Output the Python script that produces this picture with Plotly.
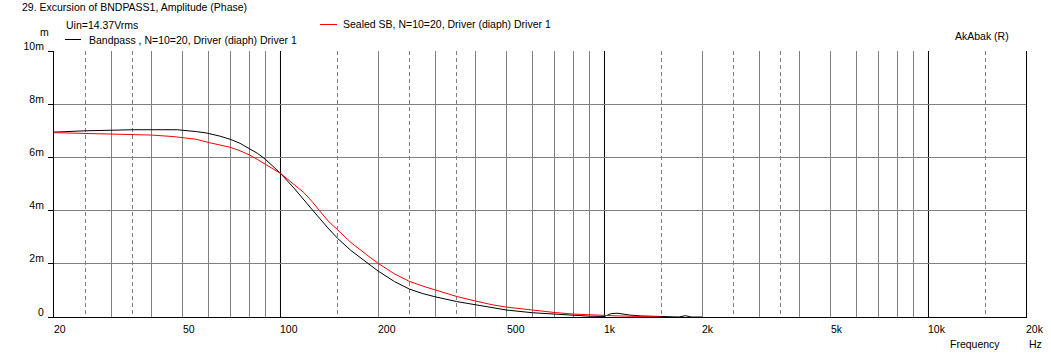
import math
import plotly.graph_objects as go

# ---------------- data (excursion in mm) ----------------
freq_bp = [20, 24, 25, 35, 40, 48, 55, 59, 65, 70, 75, 80, 85, 90, 95, 100,
           110, 117, 125, 140, 150, 165, 185, 200, 225, 250, 275, 300, 350,
           400, 450, 500, 600, 700, 800, 900, 1000, 1050, 1100, 1200, 1300,
           1500, 1700, 1780, 1850, 2000]
exc_bp = [6.95, 6.97, 7.0, 7.04, 7.05, 7.04, 6.97, 6.92, 6.80, 6.68, 6.53,
          6.35, 6.15, 5.92, 5.67, 5.40, 4.85, 4.48, 4.05, 3.35, 2.96, 2.50,
          2.03, 1.73, 1.33, 1.05, 0.88, 0.76, 0.58, 0.45, 0.34, 0.26, 0.16,
          0.10, 0.06, 0.03, 0.02, 0.13, 0.14, 0.07, 0.04, 0.01, 0.0, 0.05,
          0.0, 0.0]

freq_sb = [20, 23.5, 30, 35, 40, 47, 55, 60, 65, 70, 75, 80, 85, 90, 95, 100,
           110, 118, 125, 140, 150, 165, 185, 200, 225, 250, 275, 300, 350,
           400, 450, 500, 600, 700, 800, 900, 1000, 1100, 1300, 1500]
exc_sb = [6.93, 6.91, 6.89, 6.88, 6.84, 6.78, 6.68, 6.56, 6.48, 6.38, 6.25,
          6.10, 5.92, 5.72, 5.56, 5.40, 4.98, 4.68, 4.35, 3.62, 3.28, 2.80,
          2.33, 2.02, 1.62, 1.34, 1.16, 1.02, 0.77, 0.60, 0.46, 0.37, 0.25,
          0.17, 0.11, 0.08, 0.06, 0.04, 0.02, 0.0]

x_tick_vals = [20, 50, 100, 200, 500, 1000, 2000, 5000, 10000, 20000]
x_tick_text = ["20", "50", "100", "200", "500", "1k", "2k", "5k", "10k", "20k"]
y_tick_vals = [0, 2, 4, 6, 8, 10]
y_tick_text = ["0", "2m", "4m", "6m", "8m", "10m"]

grid_solid = [30, 40, 50, 60, 70, 80, 90, 200, 300, 400, 500, 600, 700, 800,
              900, 2000, 3000, 4000, 5000, 6000, 7000, 8000, 9000]
grid_dash = [25, 35, 150, 250, 350, 1500, 2500, 3500, 15000]
grid_decade = [100, 1000, 10000]

title_text = "29. Excursion of BNDPASS1, Amplitude (Phase)"
sub_text = "Uin=14.37Vrms"
name_bp = "Bandpass , N=10=20, Driver (diaph) Driver 1"
name_sb = "Sealed SB, N=10=20, Driver (diaph) Driver 1"

FONT = "Liberation Sans, Arial, sans-serif"
FS = 10.5
GRAY = "#808080"

fig = go.Figure()
fig.add_trace(go.Scatter(x=freq_bp, y=exc_bp, mode="lines", name=name_bp,
                         line=dict(color="#000000", width=1), showlegend=False))
fig.add_trace(go.Scatter(x=freq_sb, y=exc_sb, mode="lines", name=name_sb,
                         line=dict(color="#ff0000", width=1), showlegend=False))

# decade lines (black)
for f in grid_decade:
    fig.add_shape(type="line", xref="x", yref="paper", x0=f, x1=f, y0=0, y1=1,
                  line=dict(color="#000000", width=1), layer="below")

fig.update_xaxes(
    type="log", range=[math.log10(20), math.log10(20000)],
    tickmode="array", tickvals=grid_solid, showticklabels=False,
    showgrid=True, gridcolor=GRAY, gridwidth=1, ticks="",
    minor=dict(tickmode="array", tickvals=grid_dash, showgrid=True,
               gridcolor=GRAY, gridwidth=1, griddash="4px,3px", ticks=""),
    showline=True, linecolor="#000000", linewidth=1, mirror=False,
    zeroline=False, fixedrange=True,
)
fig.update_yaxes(
    range=[0, 10], tickmode="array", tickvals=y_tick_vals, ticktext=y_tick_text,
    showgrid=False, ticks="outside", ticklen=5, tickcolor="#000000", tickwidth=1,
    ticklabelshift=-5, ticklabelstandoff=2,
    tickfont=dict(family=FONT, size=FS, color="#000000"),
    minor=dict(tickmode="array", tickvals=[2, 4, 6, 8], showgrid=True,
               gridcolor=GRAY, gridwidth=1, ticks=""),
    showline=True, linecolor="#000000", linewidth=1, mirror=True,
    zeroline=False, fixedrange=True,
)

ann = []
for v, t in zip(x_tick_vals, x_tick_text):
    ann.append(dict(x=math.log10(v), y=0, xref="x", yref="paper", text=t,
                    showarrow=False, xanchor="left", yanchor="middle",
                    xshift=-2, yshift=-12))
ann += [
    dict(x=20, y=7, xref="paper", yref="paper", text=title_text),
    dict(x=64, y=25, text=sub_text),
    dict(x=87, y=40, text=name_bp),
    dict(x=341, y=24.5, text=name_sb),
    dict(x=953, y=36, text="AkAbak (R)"),
    dict(x=948, y=344, text="Frequency"),
    dict(x=1027, y=344, text="Hz"),
    dict(x=38, y=32, text="m"),
]
final_ann = []
for a in ann:
    if a.get("xref") == "x":
        final_ann.append(a)
        continue
    # pixel positions converted to paper fractions of the plot area
    final_ann.append(dict(
        xref="paper", yref="paper",
        x=(a["x"] - 54) / (1026 - 54),
        y=(317 - a["y"]) / (317 - 51),
        text=a["text"], showarrow=False, xanchor="left", yanchor="middle",
    ))
fig.update_layout(annotations=final_ann)

# legend line samples
fig.add_shape(type="line", xref="paper", yref="paper",
              x0=(65 - 54) / 972, x1=(81 - 54) / 972,
              y0=(317 - 39.5) / 266, y1=(317 - 39.5) / 266,
              line=dict(color="#000000", width=1))
fig.add_shape(type="line", xref="paper", yref="paper",
              x0=(320 - 54) / 972, x1=(337 - 54) / 972,
              y0=(317 - 24.5) / 266, y1=(317 - 24.5) / 266,
              line=dict(color="#ff0000", width=1))

fig.update_layout(
    width=1051, height=355,
    margin=dict(l=54, r=25, t=51, b=38, pad=0),
    paper_bgcolor="#ffffff", plot_bgcolor="#ffffff",
    font=dict(family=FONT, size=FS, color="#000000"),
    showlegend=False,
)

fig.write_html("out.html", config={"displayModeBar": False},
               post_script="document.body.style.margin='0';document.body.style.padding='0';")
